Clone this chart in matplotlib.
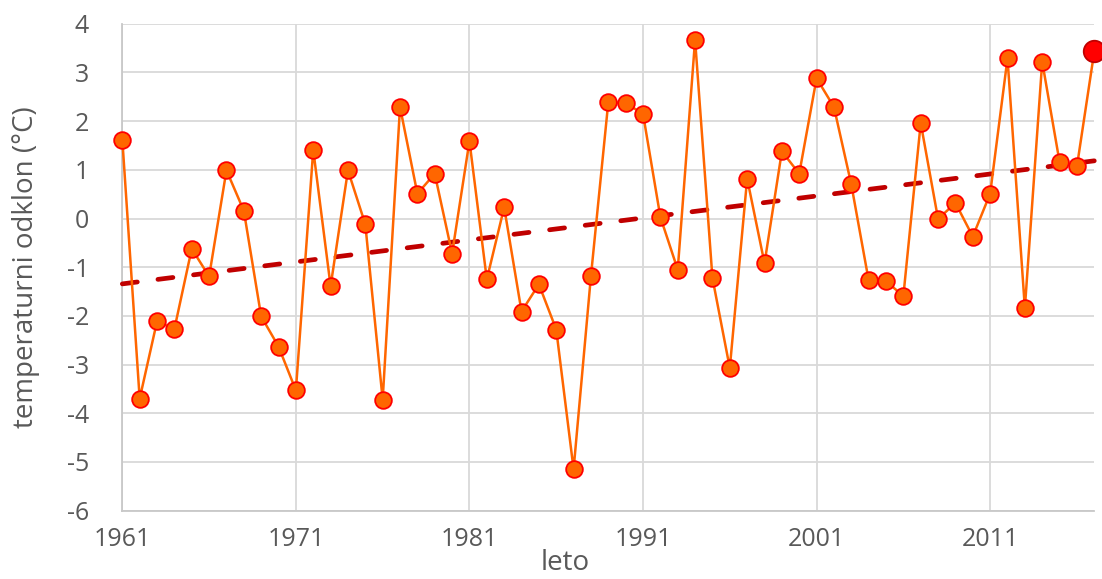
import numpy as np
import matplotlib
matplotlib.use("Agg")
from matplotlib import pyplot as plt

years = np.arange(1961, 2018)
anomaly = [1.62, -3.70, -2.11, -2.27, -0.62, -1.19, 0.99, 0.16, -2.01, -2.63,
           -3.53, 1.41, -1.39, 0.99, -0.12, -3.72, 2.29, 0.51, 0.92, -0.72,
           1.59, -1.25, 0.23, -1.91, -1.35, -2.28, -5.15, -1.18, 2.39, 2.37,
           2.15, 0.03, -1.05, 3.67, -1.22, -3.07, 0.82, -0.92, 1.38, 0.92,
           2.88, 2.29, 0.70, -1.27, -1.29, -1.59, 1.96, -0.01, 0.32, -0.37,
           0.51, 3.29, -1.84, 3.22, 1.16, 1.07, 3.43]
xticks = [1961, 1971, 1981, 1991, 2001, 2011]
yticks = list(range(-6, 5))

plt.rcParams['font.family'] = ['Open Sans', 'DejaVu Sans']
plt.rcParams['axes.unicode_minus'] = False
txt = '#595959'

fig = plt.figure(figsize=(11.02, 5.79), dpi=100)
ax = fig.add_axes([0.111, 0.118, 0.882, 0.841])

# linear trend from the data
k, n = np.polyfit(years, anomaly, 1)
ax.plot(years, k * years + n, color='#C00000', lw=3.4, ls=(0, (3.2, 4.4)),
        dash_capstyle='round', zorder=3, clip_on=False)

ax.plot(years, anomaly, color='#FF6600', lw=1.8, marker='o', ms=12,
        mfc='#FF6600', mec='#FF0000', mew=1.3, zorder=4, clip_on=False)
ax.plot(years[-1:], anomaly[-1:], ls='none', marker='o', ms=15.5,
        mfc='#FF0000', mec='#C00000', mew=1.3, zorder=5, clip_on=False)

ax.set_xlim(1961, 2017)
ax.set_ylim(-6, 4)
ax.set_xticks(xticks)
ax.set_yticks(yticks)
ax.grid(True, color='#D9D9D9', lw=1.3)
ax.set_axisbelow(True)
for s in ['top', 'right']:
    ax.spines[s].set_visible(False)
for s in ['left', 'bottom']:
    ax.spines[s].set_color('#C8C8C8')
    ax.spines[s].set_linewidth(1.3)
ax.tick_params(length=0, labelsize=18, colors=txt, pad=12)
ax.tick_params(axis='y', pad=24)
for lab in ax.get_yticklabels():
    lab.set_horizontalalignment('right')

ax.set_ylabel('temperaturni odklon (°C)', fontsize=20, color=txt)
ax.yaxis.set_label_coords(-0.085, 0.5)
fig.text(0.513, 0.003, 'leto', fontsize=20, color=txt, ha='center', va='bottom')

fig.savefig('out.png', dpi=100)
